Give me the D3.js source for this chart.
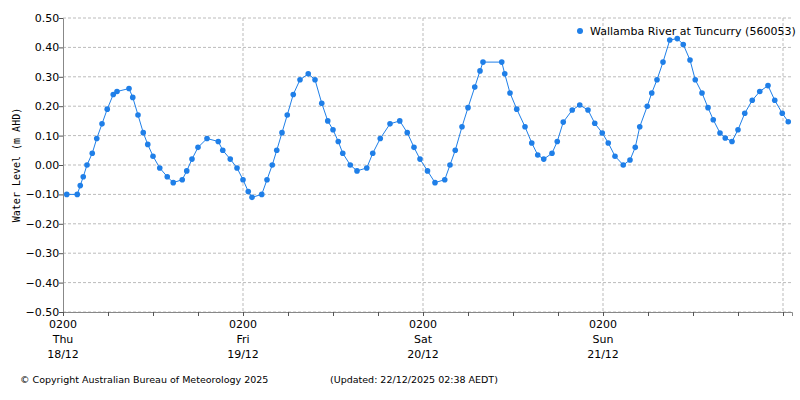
<!DOCTYPE html>
<html>
<head>
<meta charset="utf-8">
<script src="https://cdn.jsdelivr.net/npm/d3@7"></script>
<style>
  body { margin: 0; background: #fff; }
</style>
</head>
<body>
<svg id="chart" width="800" height="400" font-family="DejaVu Sans"></svg>
<script>
// hours after 0200 Thu 18/12
const hours = [0.5, 1.9, 2.3, 2.7, 3.2, 3.9, 4.5, 5.2, 5.9, 6.7, 7.2, 8.8, 9.3, 10.0, 10.7, 11.3, 12.0, 12.9, 13.9, 14.7,
  15.9, 16.5, 17.2, 18.0, 19.2, 20.7, 21.3, 22.3, 23.2, 24.0, 24.7, 25.2, 26.5, 27.2, 27.9, 28.5, 29.2, 29.9, 30.7, 31.6,
  32.7, 33.6, 34.5, 35.3, 36.0, 36.7, 37.3, 38.3, 39.2, 40.5, 41.3, 42.3, 43.6, 44.9, 45.9, 46.8, 47.6, 48.6, 49.6, 50.9,
  51.6, 52.3, 53.2, 54.0, 54.9, 55.6, 56.0, 58.5, 58.9, 59.6, 60.5, 61.6, 62.5, 63.3, 64.1, 65.2, 65.9, 66.7, 67.9, 68.9,
  70.0, 70.9, 71.9, 72.7, 73.6, 74.7, 75.6, 76.3, 76.9, 77.9, 78.5, 79.2, 80.0, 80.9, 81.9, 82.7, 83.6, 84.3, 85.2, 86.0,
  86.7, 87.6, 88.3, 89.2, 90.0, 90.9, 91.9, 92.9, 94.0, 94.9, 95.9, 96.7];
const levels = [-0.10, -0.10, -0.07, -0.04, 0.00, 0.04, 0.09, 0.14, 0.19, 0.24, 0.25, 0.26, 0.23, 0.17, 0.11, 0.07, 0.03, -0.01, -0.04, -0.06,
  -0.05, -0.02, 0.02, 0.06, 0.09, 0.08, 0.05, 0.02, -0.01, -0.05, -0.09, -0.11, -0.10, -0.05, 0.00, 0.05, 0.11, 0.17, 0.24, 0.29,
  0.31, 0.29, 0.21, 0.15, 0.12, 0.08, 0.04, 0.00, -0.02, -0.01, 0.04, 0.09, 0.14, 0.15, 0.11, 0.06, 0.02, -0.02, -0.06, -0.05,
  0.00, 0.05, 0.13, 0.195, 0.265, 0.32, 0.35, 0.35, 0.31, 0.245, 0.19, 0.13, 0.075, 0.034, 0.02, 0.04, 0.08, 0.146, 0.187, 0.204,
  0.187, 0.142, 0.109, 0.075, 0.03, 0.00, 0.017, 0.06, 0.13, 0.20, 0.245, 0.29, 0.35, 0.425, 0.43, 0.41, 0.357, 0.29, 0.245, 0.195,
  0.154, 0.109, 0.092, 0.08, 0.12, 0.176, 0.22, 0.25, 0.27, 0.22, 0.176, 0.147];
const yTicks = [0.5, 0.4, 0.3, 0.2, 0.1, 0, -0.1, -0.2, -0.3, -0.4, -0.5];
const dayLabels = [["0200", "Thu", "18/12"], ["0200", "Fri", "19/12"], ["0200", "Sat", "20/12"], ["0200", "Sun", "21/12"]];
const seriesName = "Wallamba River at Tuncurry (560053)";

const margin = { top: 18, right: 8, bottom: 88, left: 63 };
const width = 800, height = 400;
const svg = d3.select("#chart");
const x = d3.scaleLinear().domain([0, 97.2]).range([margin.left, width - margin.right]);
const y = d3.scaleLinear().domain([-0.5, 0.5]).range([height - margin.bottom, margin.top]);
const col = "#1f7fe8";

// grid
svg.append("g").selectAll("line").data(yTicks).join("line")
  .attr("x1", margin.left).attr("x2", width - margin.right)
  .attr("y1", d => y(d)).attr("y2", d => y(d))
  .attr("stroke", "#bbb").attr("stroke-dasharray", "3,2");
svg.append("g").selectAll("line").data([24, 48, 72, 96]).join("line")
  .attr("x1", d => x(d)).attr("x2", d => x(d))
  .attr("y1", margin.top).attr("y2", height - margin.bottom)
  .attr("stroke", "#bbb").attr("stroke-dasharray", "3,2");

// axes
const yAxis = d3.axisLeft(y).tickValues(yTicks).tickFormat(d3.format(".2f")).tickSize(4);
const gy = svg.append("g").attr("transform", `translate(${margin.left},0)`).call(yAxis);
const xAxis = d3.axisBottom(x).tickValues(d3.range(0, 97, 6)).tickFormat("").tickSize(4);
const gx = svg.append("g").attr("transform", `translate(0,${height - margin.bottom})`).call(xAxis);
[gx, gy].forEach(g => {
  g.attr("font-family", "DejaVu Sans");
  g.select(".domain").attr("stroke", "#888");
  g.selectAll(".tick line").attr("stroke", "#555");
  g.selectAll("text").attr("font-size", 11).attr("fill", "#000");
});
gy.selectAll(".tick text").attr("dx", "0.3em");

// day labels
dayLabels.forEach((lab, i) => {
  const t = svg.append("text").attr("x", x(i * 24)).attr("y", height - margin.bottom + 16)
    .attr("text-anchor", "middle").attr("font-size", 11);
  lab.forEach((s, j) => t.append("tspan").attr("x", x(i * 24)).attr("dy", j ? 15 : 0).text(s));
});

svg.append("text").attr("transform", `translate(20,${y(0)}) rotate(-90)`)
  .attr("text-anchor", "middle").attr("font-size", 10).attr("font-family", "DejaVu Sans Mono")
  .text("Water Level (m AHD)");

// series
const pts = hours.map((h, i) => [h, levels[i]]);
svg.append("path").datum(pts).attr("fill", "none").attr("stroke", col).attr("stroke-width", 1)
  .attr("d", d3.line().x(d => x(d[0])).y(d => y(d[1])));
svg.append("g").selectAll("circle").data(pts).join("circle")
  .attr("cx", d => x(d[0])).attr("cy", d => y(d[1])).attr("r", 2.8).attr("fill", col);

// legend
svg.append("circle").attr("cx", 580).attr("cy", 31).attr("r", 3).attr("fill", col);
svg.append("text").attr("x", 590).attr("y", 35).attr("font-size", 11).text(seriesName);

// footer
svg.append("text").attr("x", 20).attr("y", 383).attr("font-size", 9.5).text("© Copyright Australian Bureau of Meteorology 2025");
svg.append("text").attr("x", 330).attr("y", 383).attr("font-size", 9.5).text("(Updated: 22/12/2025 02:38 AEDT)");
</script>
</body>
</html>
